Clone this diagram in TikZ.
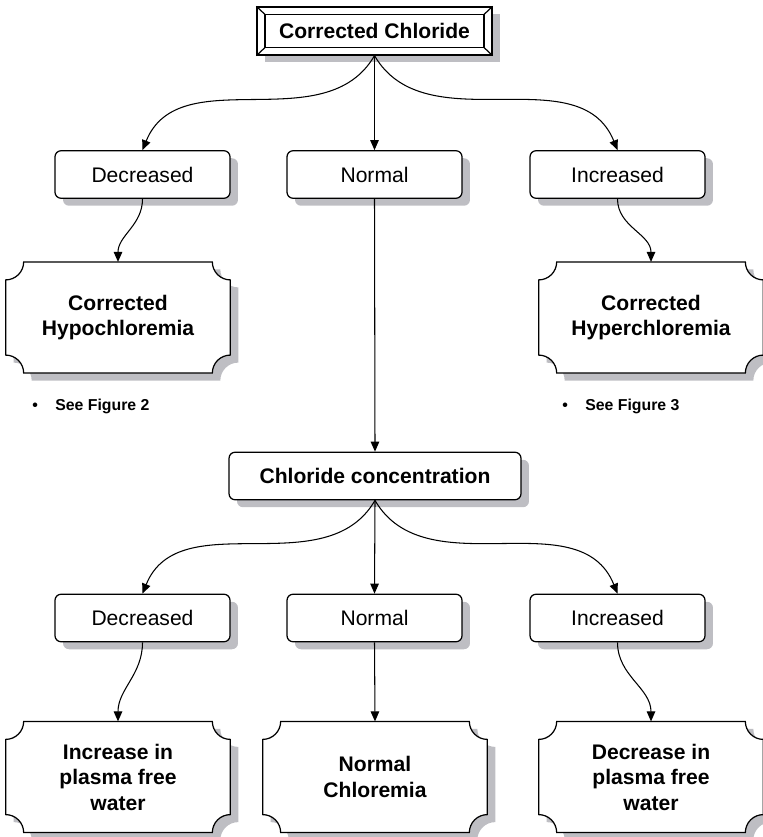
\documentclass[tikz,border=0pt]{standalone}
\usepackage{fontspec}
\setmainfont{Liberation Sans}
\usetikzlibrary{arrows.meta,calc,shadows,backgrounds}

\definecolor{shadowgray}{RGB}{190,190,195}

% outline of a box with concave corners, #2 is an offset
\newcommand{\nr}{0.36cm}
\newcommand{\notchpath}[2]{($(#1.north west)+#2+(\nr,0)$) -- ($(#1.north east)+#2+(-\nr,0)$)
  arc[start angle=180,end angle=270,radius=\nr] -- ($(#1.south east)+#2+(0,\nr)$)
  arc[start angle=90,end angle=180,radius=\nr] -- ($(#1.south west)+#2+(\nr,0)$)
  arc[start angle=0,end angle=90,radius=\nr] -- ($(#1.north west)+#2+(0,-\nr)$)
  arc[start angle=270,end angle=360,radius=\nr] -- cycle}
\newcommand{\notchbox}[1]{%
  \fill[fill=shadowgray] \notchpath{#1}{(0.16cm,-0.15cm)};
  \filldraw[fill=white,line width=0.7pt] \notchpath{#1}{(0,0)};}

\begin{document}
\begin{tikzpicture}[x=0.02cm,y=0.02cm,
  every node/.style={align=center,font=\fontsize{12}{14.5}\selectfont},
  shadowed/.style={drop shadow={shadow xshift=0.16cm,shadow yshift=-0.15cm,fill=shadowgray,opacity=1}},
  bevel/.style={draw,line width=0.7pt,fill=white,minimum width=4.7cm,minimum height=0.96cm,
    inner sep=0pt,font=\fontsize{12}{14.5}\selectfont\bfseries,shadowed},
  choice/.style={draw,line width=0.7pt,rounded corners=0.12cm,fill=white,
    minimum width=3.5cm,minimum height=0.95cm,inner sep=0pt,shadowed},
  header/.style={choice,minimum width=5.84cm,font=\fontsize{12}{14.5}\selectfont\bfseries},
  result/.style={minimum width=4.48cm,minimum height=2.21cm,inner sep=0pt,
    font=\fontsize{12}{14.5}\selectfont\bfseries},
  note/.style={anchor=west,inner sep=0pt,font=\fontsize{9}{11}\selectfont\bfseries},
  link/.style={-{Triangle[length=0.2cm,width=0.17cm]},line width=0.6pt}]

  \useasboundingbox (0,0) rectangle (762,-837);

  % first level
  \node[bevel] (cc) at (374.5,-31) {Corrected Chloride};
  \foreach \a/\dx/\dy in {north west/1/-1,north east/-1/-1,south west/1/1,south east/-1/1}
    \draw[line width=0.7pt] (cc.\a) -- ++(\dx*0.17cm,\dy*0.16cm);
  \draw[line width=0.7pt] ($(cc.north west)+(0.17cm,-0.16cm)$) rectangle ($(cc.south east)+(-0.17cm,0.16cm)$);

  \node[choice] (dec1) at (142.5,-174.5) {Decreased};
  \node[choice] (nor1) at (374.5,-174.5) {Normal};
  \node[choice] (inc1) at (617.5,-174.5) {Increased};

  \node[result] (hypo) at (118,-317.5) {Corrected\\Hypochloremia};
  \node[result] (hyper) at (651,-317.5) {Corrected\\Hyperchloremia};
  \node[note] (fig2) at (32,-406) {•\hspace{0.35cm}See Figure 2};
  \node[note] (fig3) at (562,-406) {•\hspace{0.35cm}See Figure 3};

  % second level
  \node[header] (conc) at (375,-476) {Chloride concentration};

  \node[choice] (dec2) at (142.5,-618) {Decreased};
  \node[choice] (nor2) at (374.5,-618) {Normal};
  \node[choice] (inc2) at (617.5,-618) {Increased};

  \node[result] (more) at (118,-777) {Increase in\\plasma free\\water};
  \node[result] (same) at (375,-777) {Normal\\Chloremia};
  \node[result] (less) at (651,-777) {Decrease in\\plasma free\\water};

  \begin{scope}[on background layer]
    \foreach \n in {hypo,hyper,more,same,less}{\notchbox{\n}}
  \end{scope}

  \draw[link] (cc.south) to[out=-120,in=68] (dec1.north);
  \draw[link] (cc.south) -- (nor1.north);
  \draw[link] (cc.south) to[out=-60,in=112] (inc1.north);
  \draw[link] (dec1.south) to[out=-90,in=90] (hypo.north);
  \draw[link] (inc1.south) to[out=-90,in=90] (hyper.north);
  \draw[link] (nor1.south) -- (conc.north);

  \draw[link] (conc.south) to[out=-120,in=68] (dec2.north);
  \draw[link] (conc.south) -- (nor2.north);
  \draw[link] (conc.south) to[out=-60,in=112] (inc2.north);
  \draw[link] (dec2.south) to[out=-90,in=90] (more.north);
  \draw[link] (nor2.south) -- (same.north);
  \draw[link] (inc2.south) to[out=-90,in=90] (less.north);
\end{tikzpicture}
\end{document}
